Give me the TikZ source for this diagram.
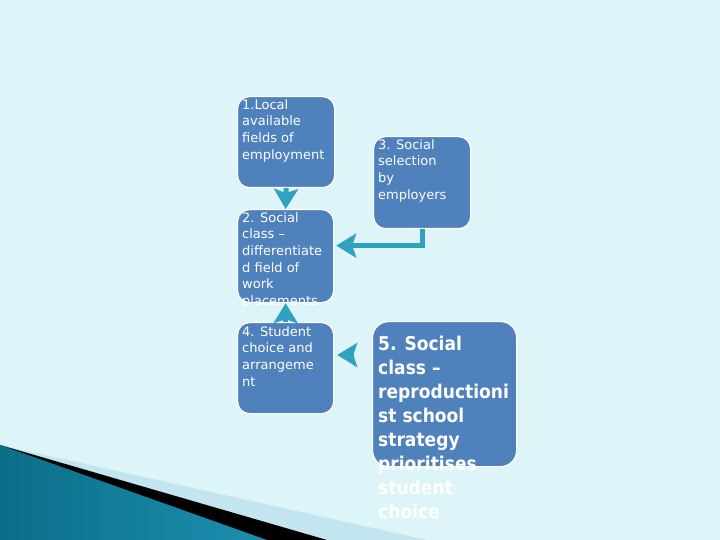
\documentclass[tikz,border=0pt]{standalone}
\usepackage{fontspec}
\setmainfont{DejaVu Sans}
\newfontfamily\bigfont[FakeStretch=0.9]{DejaVu Sans}
\usetikzlibrary{arrows.meta,calc}
\definecolor{bg}{HTML}{DDF4F8}
\definecolor{boxblue}{HTML}{4F81BD}
\definecolor{conncol}{HTML}{2FA2BF}
\definecolor{stripe}{HTML}{C3E5EF}
\definecolor{tealdark}{HTML}{0B6E89}
\definecolor{teallight}{HTML}{5DC3E3}
\definecolor{tealmid}{HTML}{1C8FB0}
\begin{document}
\begin{tikzpicture}[x=1pt,y=-1pt,
  card/.style={draw=white, line width=1.2pt, fill=boxblue, rounded corners=12pt, inner sep=0pt, anchor=north west},
  txt/.style={anchor=north west, inner sep=0pt, align=left, text=white, font=\fontsize{13}{16.7}\selectfont},
  bigtxt/.style={anchor=north west, inner sep=0pt, align=left, text=white, font=\bigfont\bfseries\fontsize{19}{24}\selectfont},
  link/.style={draw=conncol, line width=5pt, -{Stealth[length=20pt,width=24pt,inset=4pt]}}
]
\fill[bg] (0,0) rectangle (720,540);
\useasboundingbox (0,0) rectangle (720,540);
% bottom-left decoration
\fill[stripe] (0,445) -- (427,540) -- (0,540) -- cycle;
\fill[black] (0,445) -- (327,540) -- (0,540) -- cycle;
\shade[left color=tealdark, middle color=teallight, right color=tealmid] (0,445) -- (267,540) -- (0,540) -- cycle;
% boxes
\node[card, minimum width=97pt, minimum height=91pt] (b1) at (237,96) {};
\node[card, minimum width=96pt, minimum height=93pt] (b2) at (237,209) {};
\node[card, minimum width=97pt, minimum height=92pt] (b3) at (373,136) {};
\node[card, minimum width=96pt, minimum height=91pt] (b4) at (237,322) {};
\node[card, minimum width=144pt, minimum height=145pt, rounded corners=16pt] (b5) at (372,321) {};
% texts
\node[txt] (t1) at (242,99) {1.Local\\available\\fields of\\employment};
\node[txt] (t2) at (242,212) {2. Social\\class –\\differentiate\\d field of\\work\\placements};
\node[txt] (t3) at (378,139) {3. Social\\selection\\by\\employers};
\node[txt] (t4) at (242,326) {4. Student\\choice and\\arrangeme\\nt};
\node[bigtxt] (t5) at (378,336) {5. Social\\class –\\reproductioni\\st school\\strategy\\prioritises\\student\\choice};
% connectors
\draw[link] (b1.south) -- (b2.north);
\draw[link] (b4.north) -- (b2.south);
\draw[link, rounded corners=0pt] (b3.south) |- ($(b2.east)+(2,-10.5)$);
\draw[link, shorten <=18pt] (b5.west |- 0,355) -- ($(b4.east |- 0,355)+(3,0)$);
\end{tikzpicture}
\end{document}
